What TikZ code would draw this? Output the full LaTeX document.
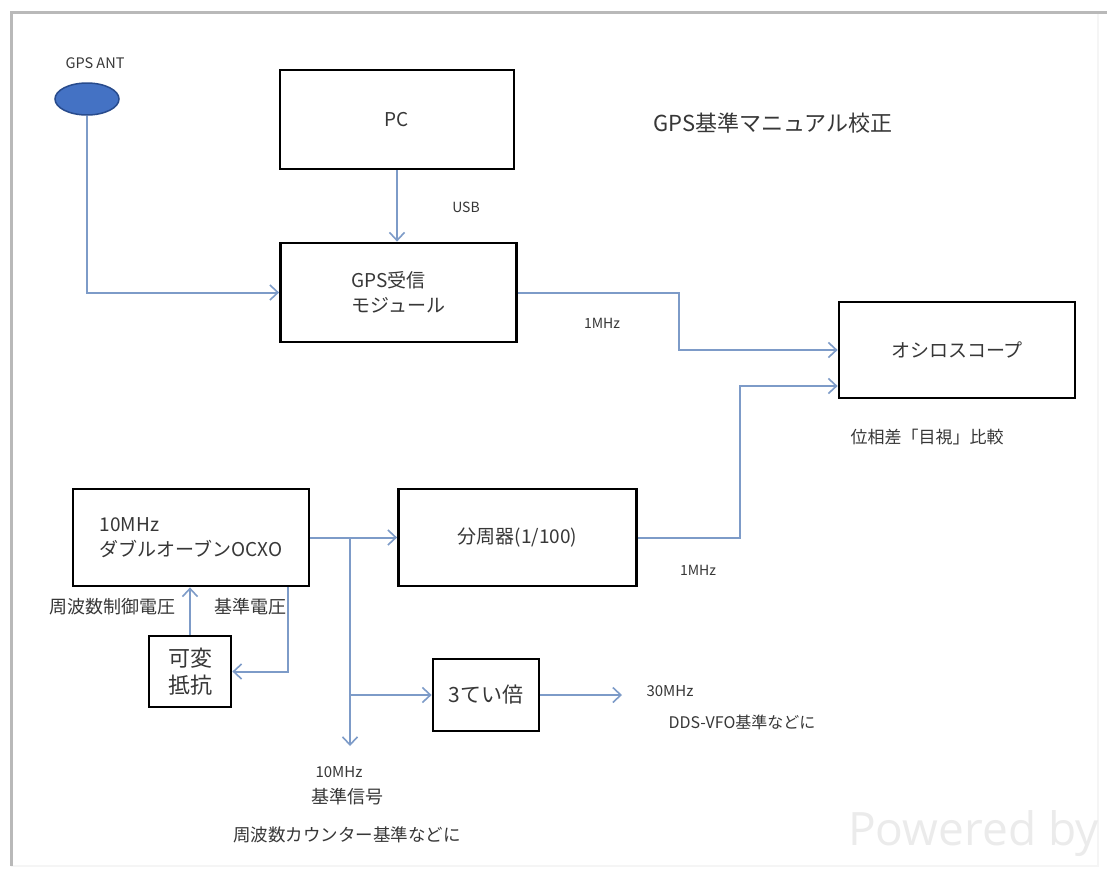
\documentclass[tikz,border=0pt]{standalone}
\usepackage{fontspec}
\setmainfont{Noto Sans CJK JP}
\newfontfamily\latinfont{Open Sans}
\usetikzlibrary{arrows.meta,shapes.geometric}
\definecolor{conn}{RGB}{125,155,200}
\definecolor{txt}{RGB}{55,55,55}
\definecolor{antblue}{RGB}{68,114,196}
\definecolor{antborder}{RGB}{40,75,140}
\begin{document}
\begin{tikzpicture}[x=1pt,y=-1pt,
  box/.style={draw=black,line width=2.8pt,fill=white,inner sep=0pt,text=txt,font=\fontsize{19}{25}\selectfont},
  lbl/.style={text=txt,inner sep=0pt,font=\fontsize{14}{17}\selectfont},
  wire/.style={draw=conn,line width=2pt},
  arr/.style={wire,-{Straight Barb[length=8pt,width=15pt,line width=1.6pt]}}
]
\useasboundingbox (0,0) rectangle (1107,870);
\fill[white] (0,0) rectangle (1107,870);
% frame
\draw[line width=2pt,gray!8] (11,866) -- (1098,866) -- (1098,12);
\draw[line width=3pt,gray!55] (11,866) -- (11,12) -- (1107,12);

% watermark
\node[anchor=base west,text=gray!16,inner sep=0pt,font=\latinfont\fontsize{46}{46}\selectfont] (pw) at (848,845) {Powered by};

% boxes
\node[box,minimum width=234pt,minimum height=99pt] (pc) at (397,119.5) {PC};
\node[box,minimum width=236pt,minimum height=99pt,align=left] (gps) at (398.5,292.5) {GPS受信\\モジュール};
\node[box,minimum width=236pt,minimum height=96pt] (osc) at (957,350) {オシロスコープ};
\node[box,minimum width=236pt,minimum height=97pt,align=left] (ocxo) at (191,537.5) {10MHz\\ダブルオーブンOCXO};
\node[box,minimum width=238pt,minimum height=97pt] (div) at (517.5,537.5) {分周器(1/100)};
\node[box,minimum width=106pt,minimum height=72pt,font=\fontsize{21}{26}\selectfont] (tri) at (486,695) {3てい倍};
\node[box,minimum width=82pt,minimum height=71pt,align=center,font=\fontsize{22}{27}\selectfont] (res) at (190,671.5) {可変\\抵抗};

% antenna
\node[ellipse,draw=antborder,fill=antblue,line width=1.5pt,minimum width=64pt,minimum height=32pt,inner sep=0pt] (ant) at (87,99) {};

% labels
\node[lbl,font=\fontsize{14.5}{17}\selectfont] (antl) at (95,63) {GPS ANT};
\node[lbl,font=\fontsize{22}{26}\selectfont] (title) at (773,123) {GPS基準マニュアル校正};
\node[lbl] (usb) at (466,207) {USB};
\node[lbl] (f1a) at (602,323) {1MHz};
\node[lbl,font=\fontsize{17}{20}\selectfont] (cmp) at (927,437) {位相差「目視」比較};
\node[lbl] (f1b) at (698,570) {1MHz};
\node[lbl,font=\fontsize{18}{21}\selectfont] (vc) at (112,607) {周波数制御電圧};
\node[lbl,font=\fontsize{18}{21}\selectfont] (vr) at (250,607) {基準電圧};
\node[lbl,font=\fontsize{15}{18}\selectfont] (f30) at (670,691) {30MHz};
\node[lbl,font=\fontsize{16}{19}\selectfont] (dds) at (742,722) {DDS-VFO基準などに};
\node[lbl,font=\fontsize{15}{18}\selectfont] (f10) at (339,772) {10MHz};
\node[lbl,font=\fontsize{18}{21}\selectfont] (ref) at (347,797) {基準信号};
\node[lbl,font=\fontsize{17.5}{21}\selectfont] (cnt) at (347,835) {周波数カウンター基準などに};

% helper coordinates
\coordinate (k1) at (679,0);
\coordinate (k2) at (740,0);
\coordinate (k3) at (288,0);
\coordinate (br) at (350,537.5);
\coordinate (out10) at (350,746);
\coordinate (out30) at (622,695);
\coordinate (oscin2) at ([yshift=-36pt]osc.west);

% connectors
\draw[arr] (ant.south) |- (gps.west);
\draw[arr] (pc.south) -- (pc.south |- gps.north);
\draw[arr] (gps.east) -| (k1 |- osc.west) -- (osc.west);
\draw[arr] (div.east) -| (k2 |- oscin2) -- (oscin2);
\draw[arr] (ocxo.east) -- (div.west);
\draw[arr] (br) -- (out10);
\draw[arr] (br |- tri.west) -- (tri.west);
\draw[arr] (tri.east) -- (out30);
\draw[arr] (res.north) -- (res.north |- ocxo.south);
\draw[arr] (k3 |- ocxo.south) |- (res.east);
\end{tikzpicture}
\end{document}
